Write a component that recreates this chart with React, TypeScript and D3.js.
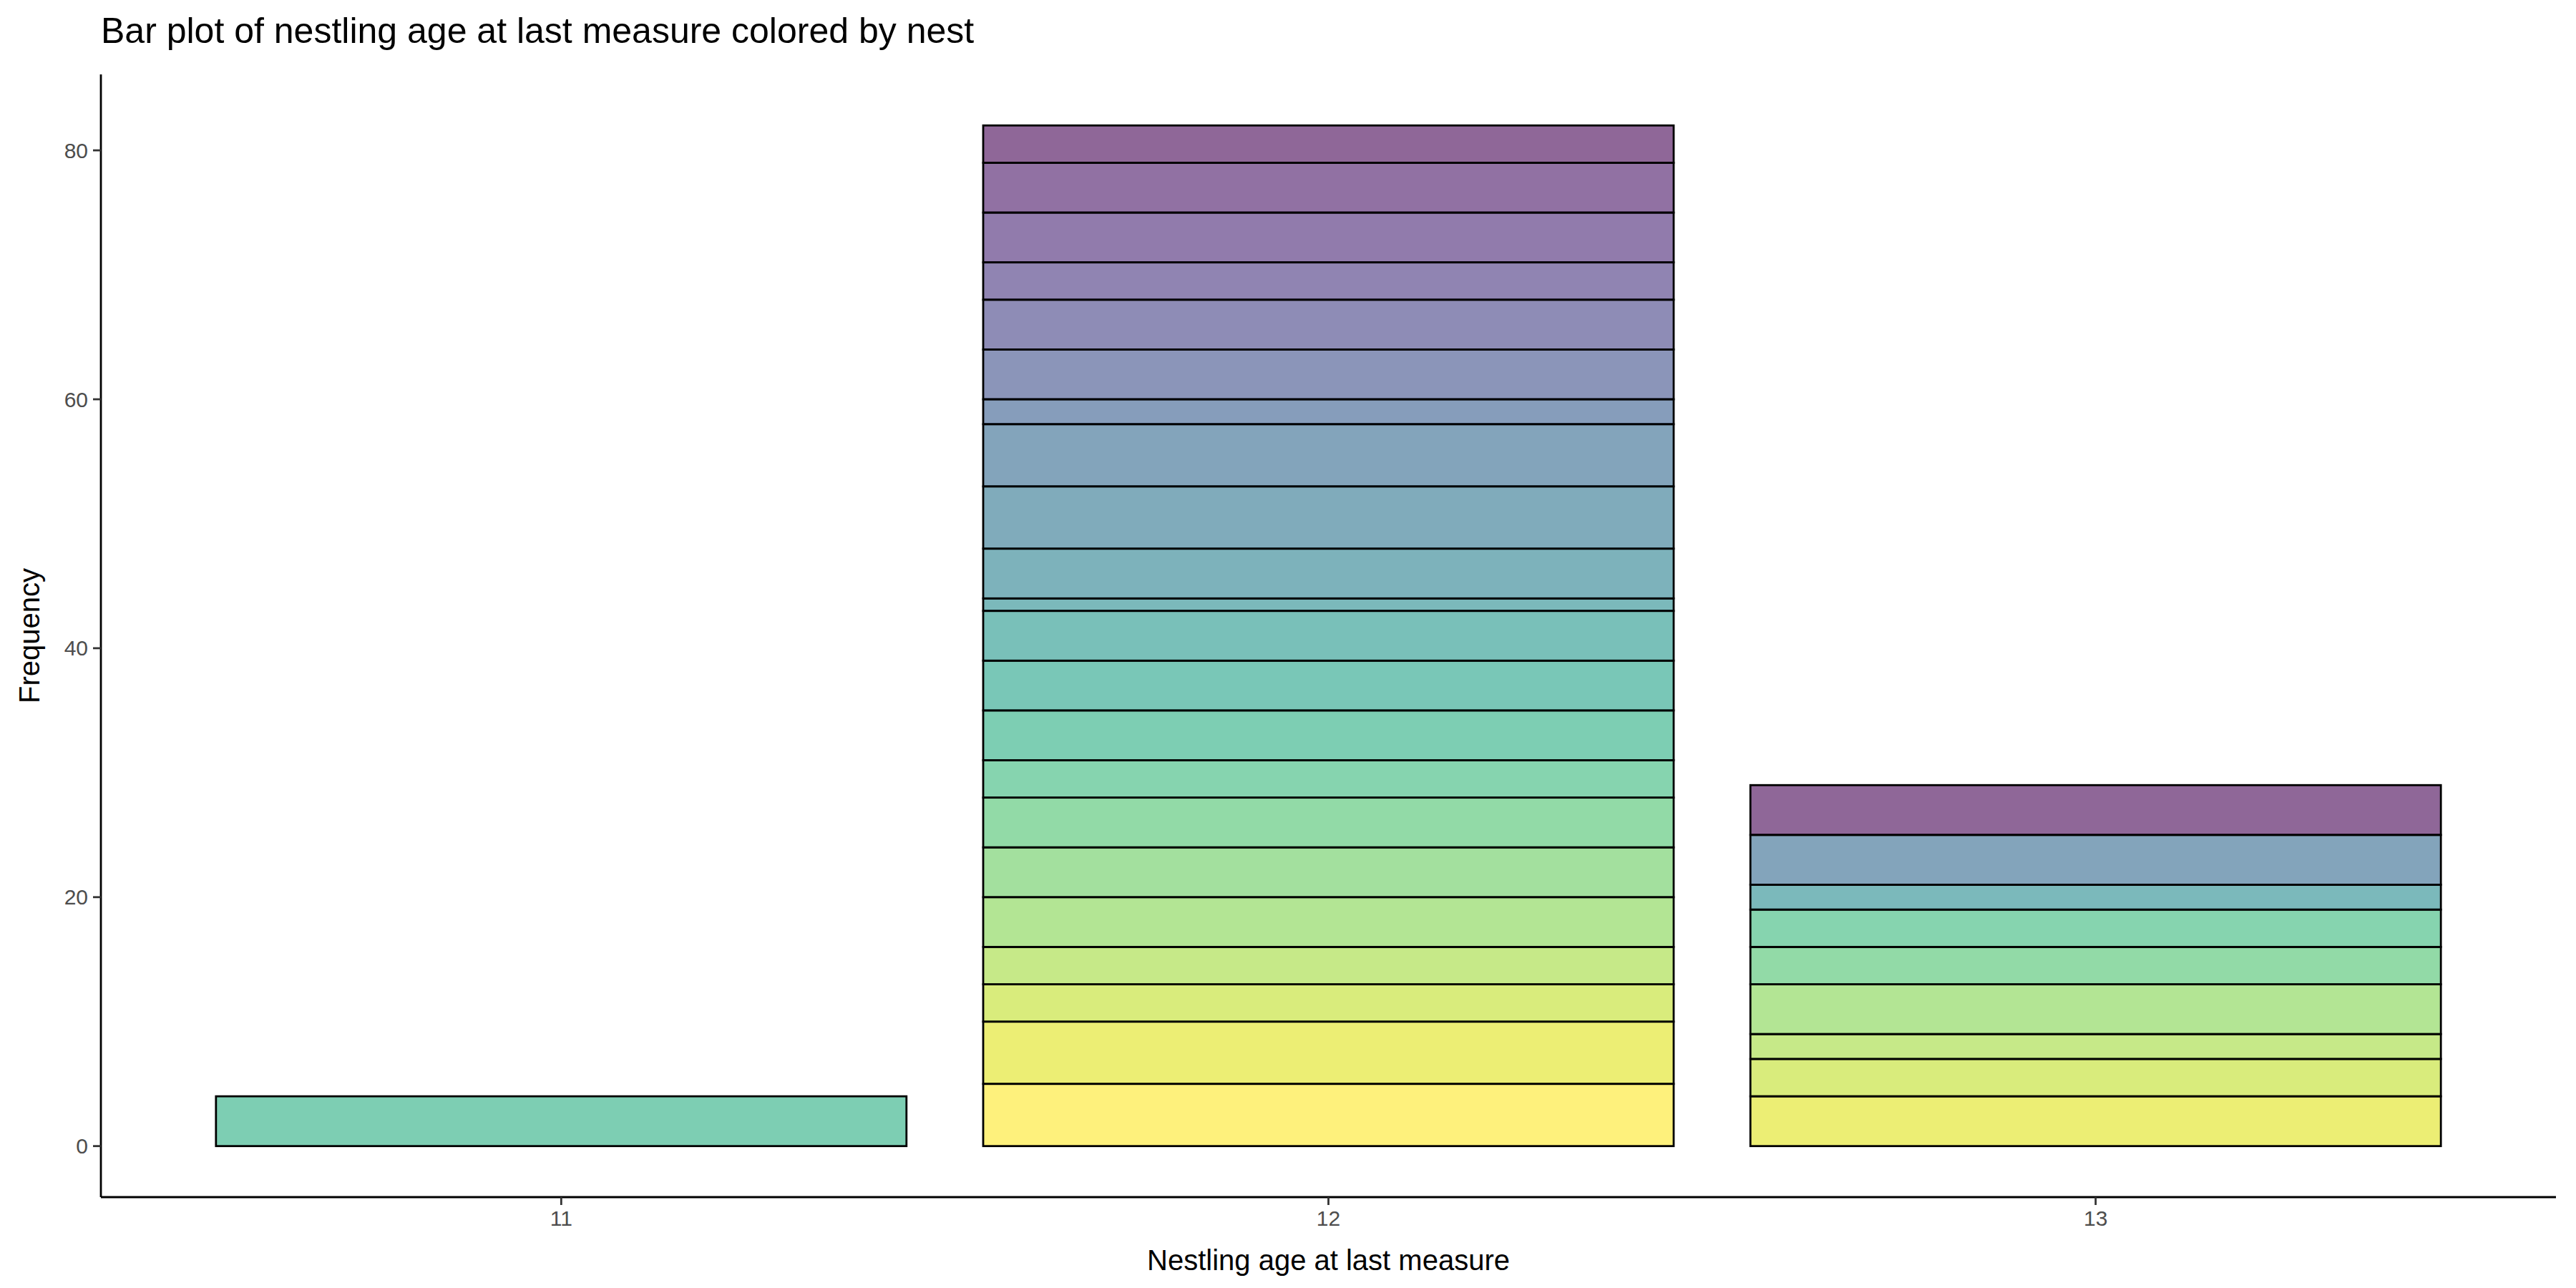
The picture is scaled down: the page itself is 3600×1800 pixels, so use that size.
import React from "react";
import * as d3 from "d3";

const ages = ["11", "12", "13"];
const age11Counts = [4];
const age11Nests = [13];
const age12Counts = [5, 5, 3, 3, 4, 4, 4, 3, 4, 4, 4, 1, 4, 5, 5, 2, 4, 4, 3, 4, 4, 3];
const age12Nests = [21, 20, 19, 18, 17, 16, 15, 14, 13, 12, 11, 10, 9, 8, 7, 6, 5, 4, 3, 2, 1, 0];
const age13Counts = [4, 3, 2, 4, 3, 3, 2, 4, 4];
const age13Nests = [20, 19, 18, 17, 15, 14, 10, 7, 0];
const yTicks = [0, 20, 40, 60, 80];
const nestCount = 22;

const W = 3600, H = 1800;
const L = 141, R = 3572, T = 104, B = 1673;

export default function App() {
  const x = d3.scaleBand().domain(ages).range([L, R]).paddingInner(0.1).paddingOuter(0.05 + 0.05 * 0);
  // continuous mapping so bars occupy 0.9 of unit and axis expands 0.6 units
  const xc = d3.scaleLinear().domain([0.4, 3.6]).range([L, R]);
  const y = d3.scaleLinear().domain([-4.1, 86.1]).range([B, T]);
  const color = (i: number) => d3.interpolateViridis(i / (nestCount - 1));
  const groups = [
    { age: 1, counts: age11Counts, nests: age11Nests },
    { age: 2, counts: age12Counts, nests: age12Nests },
    { age: 3, counts: age13Counts, nests: age13Nests },
  ];
  void x;
  const font = "Liberation Sans, Arial, sans-serif";
  return (
    <svg width={W} height={H} style={{ position: "absolute", left: 0, top: 0, background: "#fff" }} fontFamily={font}>
      <rect width={W} height={H} fill="#fff" />
      <text x={141} y={60} fontSize={50} fill="#000">Bar plot of nestling age at last measure colored by nest</text>
      {groups.map((g) => {
        let cum = 0;
        return g.counts.map((c, j) => {
          const y0 = cum;
          cum += c;
          return (
            <rect key={g.age + "-" + j} x={xc(g.age - 0.45)} width={xc(g.age + 0.45) - xc(g.age - 0.45)}
              y={y(cum)} height={y(y0) - y(cum)}
              fill={color(g.nests[j])} fillOpacity={0.6} stroke="#000" strokeWidth={2.8} />
          );
        });
      })}
      <line x1={L} x2={L} y1={T} y2={B} stroke="#000" strokeWidth={2.8} />
      <line x1={L} x2={R} y1={B} y2={B} stroke="#000" strokeWidth={2.8} />
      {yTicks.map((t) => (
        <g key={t}>
          <line x1={L - 11} x2={L} y1={y(t)} y2={y(t)} stroke="#333" strokeWidth={2.8} />
          <text x={L - 18} y={y(t)} dy="0.35em" textAnchor="end" fontSize={30} fill="#4d4d4d">{t}</text>
        </g>
      ))}
      {ages.map((a, i) => (
        <g key={a}>
          <line x1={xc(i + 1)} x2={xc(i + 1)} y1={B} y2={B + 11} stroke="#333" strokeWidth={2.8} />
          <text x={xc(i + 1)} y={B + 40} textAnchor="middle" fontSize={30} fill="#4d4d4d">{a}</text>
        </g>
      ))}
      <text x={(L + R) / 2} y={1775} textAnchor="middle" fontSize={40} fill="#000">Nestling age at last measure</text>
      <text transform={`translate(55,${(T + B) / 2}) rotate(-90)`} textAnchor="middle" fontSize={40} fill="#000">Frequency</text>
    </svg>
  );
}
